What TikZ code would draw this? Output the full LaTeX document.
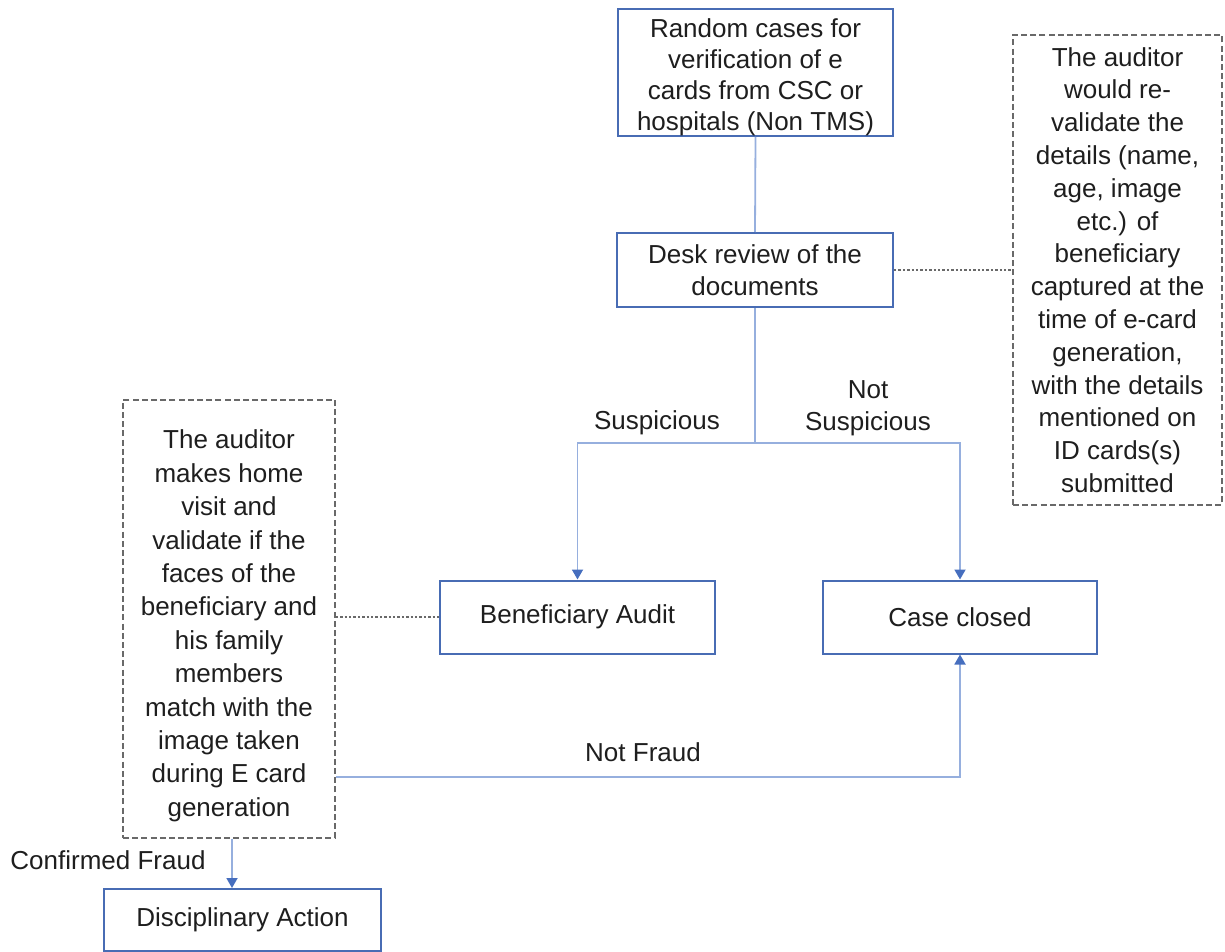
\documentclass[tikz,border=0pt]{standalone}
\usepackage{fontspec}
\setmainfont{Liberation Sans}
\usetikzlibrary{arrows.meta,calc}

\definecolor{boxblue}{RGB}{72,108,180}
\definecolor{linkblue}{RGB}{150,175,222}
\definecolor{tipblue}{RGB}{70,110,190}
\definecolor{notegray}{RGB}{105,105,105}
\definecolor{inkdark}{RGB}{30,30,30}

\tikzset{
  txt/.style={font=\fontsize{13pt}{16.2pt}\selectfont, text=inkdark, align=center},
  stepbox/.style={txt, draw=boxblue, line width=1pt, fill=white, inner sep=0pt},
  notebox/.style={txt, draw=notegray, line width=0.8pt, dash pattern=on 3pt off 1.6pt, inner sep=0pt},
  link/.style={draw=linkblue, line width=0.9pt},
  arr/.style={link, -{Triangle[width=5.5pt,length=5pt,color=tipblue]}},
  dotline/.style={draw=notegray, line width=0.7pt, dash pattern=on 1.2pt off 1pt},
  lbl/.style={txt}
}

\begin{document}
\begin{tikzpicture}[x=0.5pt,y=-0.5pt]
  \useasboundingbox (0,0) rectangle (1225,952);

  % process boxes
  \node[stepbox, font=\fontsize{13pt}{15.5pt}\selectfont, minimum width=137.5pt, minimum height=63.5pt, text height=58.5pt, text depth=0pt] (src) at (755.5,72.5)
    {Random cases for\\verification of e\\cards from CSC or\\hospitals (Non TMS)};
  \node[stepbox, minimum width=138pt, minimum height=37pt] (desk) at (755,270)
    {Desk review of the\\documents};
  \node[stepbox, minimum width=137.5pt, minimum height=36.5pt] (benef) at (577.5,617)
    {Beneficiary Audit};
  \node[stepbox, minimum width=137pt, minimum height=36.5pt] (closed) at (960,617)
    {Case closed};
  \node[stepbox, minimum width=138.5pt, minimum height=31pt] (disc) at (242.5,920)
    {Disciplinary Action};

  % explanatory notes
  \node[notebox, font=\fontsize{13pt}{16.4pt}\selectfont, minimum width=104.5pt, minimum height=235pt] (rnote) at (1117.5,270)
    {The auditor\\would re-\\validate the\\details (name,\\age, image\\etc.) of\\beneficiary\\captured at the\\time of e-card\\generation,\\with the details\\mentioned on\\ID cards(s)\\submitted};
  \node[notebox, font=\fontsize{13pt}{16.7pt}\selectfont, minimum width=106pt, minimum height=219pt, text height=197.2pt, text depth=0pt] (lnote) at (229,619)
    {The auditor\\makes home\\visit and\\validate if the\\faces of the\\beneficiary and\\his family\\members\\match with the\\image taken\\during E card\\generation};

  % helper coordinates for the routed connectors
  \coordinate (split) at (755,443);
  \coordinate (nfrow) at (0,777);
  \coordinate (cfcol) at (232,0);

  % main flow
  \draw[link] (src.south) -- (desk.north);
  \draw[link] (desk.south) -- (split);
  \draw[arr] (split) -| (benef.north);
  \draw[arr] (split) -| (closed.north);
  \draw[arr] (lnote.east |- nfrow) -| (closed.south);
  \draw[arr] (lnote.south -| cfcol) -- (disc.north -| cfcol);

  % note attachments
  \draw[dotline] (desk.east) -- (rnote.west);
  \draw[dotline] (benef.west -| lnote.east) -- (benef.west);

  % branch labels
  \node[lbl] (lsus) at (657,423) {Suspicious};
  \node[lbl] (lnsus) at (868,408) {Not\\Suspicious};
  \node[lbl] (lnf) at (643,752) {Not Fraud};
  \node[lbl] (lcf) at (108,860) {Confirmed Fraud};
\end{tikzpicture}
\end{document}
